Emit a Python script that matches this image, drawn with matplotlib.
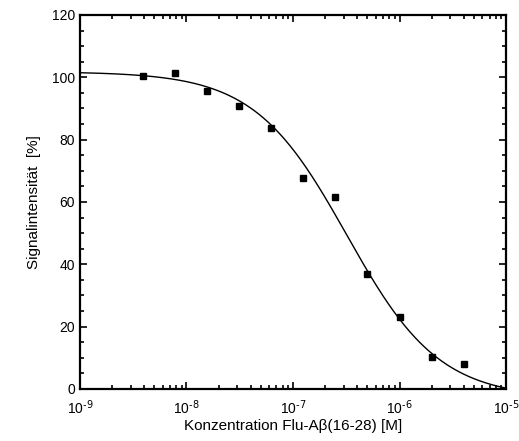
import numpy as np
import matplotlib
matplotlib.use("Agg")
import matplotlib.pyplot as plt
from matplotlib.ticker import LogLocator, MultipleLocator, FuncFormatter, FixedLocator

plt.rcParams['font.family'] = ['Liberation Sans', 'DejaVu Sans']
plt.rcParams['mathtext.default'] = 'regular'
plt.rcParams['axes.unicode_minus'] = False

conc = [3.9e-9, 7.8e-9, 1.56e-8, 3.125e-8, 6.25e-8, 1.25e-7, 2.5e-7, 5e-7, 1e-6, 2e-6, 4e-6]
signal = [100.3, 101.3, 95.5, 90.7, 83.6, 67.7, 61.6, 37.0, 23.0, 10.2, 8.0]
x_ticks = [1e-9, 1e-8, 1e-7, 1e-6, 1e-5]

# Hill fit parameters
fit_top = 101.8
fit_bottom = -3.0
fit_ic50 = 3.2e-7
fit_hill = 1.0

fig = plt.figure(figsize=(5.19, 4.41), dpi=100)
ax = fig.add_axes([0.154, 0.118, 0.821, 0.848])

xs = np.logspace(-9, -5, 400)
ys = fit_bottom + (fit_top - fit_bottom) / (1 + (xs / fit_ic50) ** fit_hill)
ax.plot(xs, ys, color='black', lw=1.0)
ax.plot(conc, signal, 's', color='black', ms=5)

ax.set_xscale('log')
ax.set_xlim(1e-9, 1e-5)
ax.set_ylim(0, 120)
ax.xaxis.set_major_locator(FixedLocator(x_ticks))
ax.xaxis.set_minor_locator(LogLocator(base=10, subs=np.arange(2, 10), numticks=50))
ax.xaxis.set_major_formatter(FuncFormatter(
    lambda v, p: r'$10^{\text{%d}}$' % int(round(np.log10(v)))))
ax.yaxis.set_major_locator(MultipleLocator(20))
ax.yaxis.set_minor_locator(MultipleLocator(5))

for s in ax.spines.values():
    s.set_linewidth(1.6)
ax.tick_params(which='both', direction='in', top=True, right=True, width=1.2, labelsize=10)
ax.tick_params(which='major', length=5)
ax.tick_params(which='minor', length=3)
ax.tick_params(axis='x', pad=7)

ax.set_xlabel('Konzentration Flu-Aβ(16-28) [M]', fontsize=11, labelpad=1)
ax.set_ylabel('Signalintensität  [%]', fontsize=11, labelpad=8)

fig.savefig('out.png', dpi=100)
